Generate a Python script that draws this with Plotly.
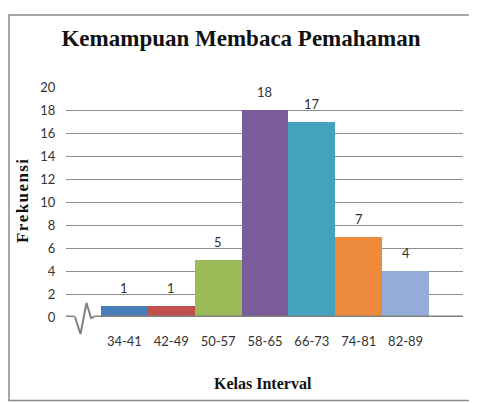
import plotly.graph_objects as go

categories = ["34-41", "42-49", "50-57", "58-65", "66-73", "74-81", "82-89"]
frequencies = [1, 1, 5, 18, 17, 7, 4]
bar_colors = ["#4A7EBB", "#C0504D", "#9BBB59", "#7A5C9C", "#43A2BD", "#EE8A3C", "#93ACD8"]
y_ticks = list(range(0, 21, 2))

title_text = "Kemampuan Membaca Pemahaman"
x_title = "Kelas Interval"
y_title = "Frekuensi"

# page body has an 8px default margin; layout is expressed in screen pixels
OFF = 8
SW, SH = 477, 403
W, H = SW - OFF, SH - OFF
PL, PR, PT, PB = 66, 463, 87, 317          # plot area in screen pixels
ML, MT = PL - OFF, PT - OFF
PW, PH = PR - PL, PB - PT
MR, MB = W - ML - PW, H - MT - PH


def px(x):
    return (x - PL) / PW


def py(y):
    return (PB - y) / PH


fig = go.Figure()
fig.add_trace(go.Bar(
    x=categories, y=frequencies, width=1.0,
    marker=dict(color=bar_colors, line=dict(width=0)),
    hoverinfo="x+y",
))

annotations = []
for c, v in zip(categories, frequencies):
    annotations.append(dict(x=c, y=v, xref="x", yref="y", text=str(v), showarrow=False,
                            yanchor="middle", yshift=18,
                            font=dict(family="Lato, Open Sans, sans-serif", size=13, color="#333333")))
annotations.append(dict(x=px(263), y=py(383), xref="paper", yref="paper", text="<b>" + x_title + "</b>",
                        showarrow=False, xanchor="center", yanchor="middle",
                        font=dict(family="Liberation Serif, serif", size=16, color="#111111")))
annotations.append(dict(x=px(22), y=py(201), xref="paper", yref="paper",
                        text="<b>" + "\u200a".join(y_title) + "</b>",
                        showarrow=False, textangle=-90, xanchor="center", yanchor="middle",
                        font=dict(family="Liberation Serif, serif", size=17, color="#111111")))

axis_gray = "#808080"
shapes = [
    # outer frame
    dict(type="rect", xref="paper", yref="paper", x0=px(9), x1=px(485), y0=py(400.5), y1=py(15),
         line=dict(color="#8a8a8a", width=1.5), fillcolor="rgba(0,0,0,0)", layer="below"),
    # axis line segments with break
    dict(type="line", xref="paper", yref="y", x0=0, x1=px(75), y0=0, y1=0,
         line=dict(color=axis_gray, width=3)),
    dict(type="line", xref="paper", yref="y", x0=px(94), x1=1, y0=0, y1=0,
         line=dict(color=axis_gray, width=3)),
    dict(type="path", xref="paper", yref="paper",
         path="M {:.4f},{:.4f} L {:.4f},{:.4f} L {:.4f},{:.4f} L {:.4f},{:.4f} L {:.4f},{:.4f}".format(
             px(75), 0, px(80.5), py(334), px(86.5), py(303), px(91), py(318), px(94), 0),
         line=dict(color=axis_gray, width=2)),
]

fig.update_layout(
    width=W, height=H,
    margin=dict(l=ML, r=MR, t=MT, b=MB),
    paper_bgcolor="white", plot_bgcolor="white",
    showlegend=False, bargap=0,
    title=dict(text="<b>" + title_text + "</b>", x=(241 - OFF) / W, xanchor="center",
               y=1 - (38 - OFF) / H, yanchor="middle",
               font=dict(family="Liberation Serif, Times New Roman, serif", size=23, color="#111111")),
    xaxis=dict(type="category", range=[-1.246, 7.225], showgrid=False, zeroline=False, showline=False,
               ticks="outside", ticklen=12, tickcolor="rgba(0,0,0,0)",
               tickfont=dict(family="Lato, Open Sans, sans-serif", size=13, color="#333333"), fixedrange=True),
    yaxis=dict(range=[0, 20], tickvals=y_ticks, showgrid=True, gridcolor="#8f8f8f", gridwidth=1,
               zeroline=False, showline=False, ticks="outside", ticklen=7, tickcolor="rgba(0,0,0,0)",
               tickfont=dict(family="Lato, Open Sans, sans-serif", size=13, color="#333333"), fixedrange=True),
    annotations=annotations,
    shapes=shapes,
)

fig.write_html("out.html")
